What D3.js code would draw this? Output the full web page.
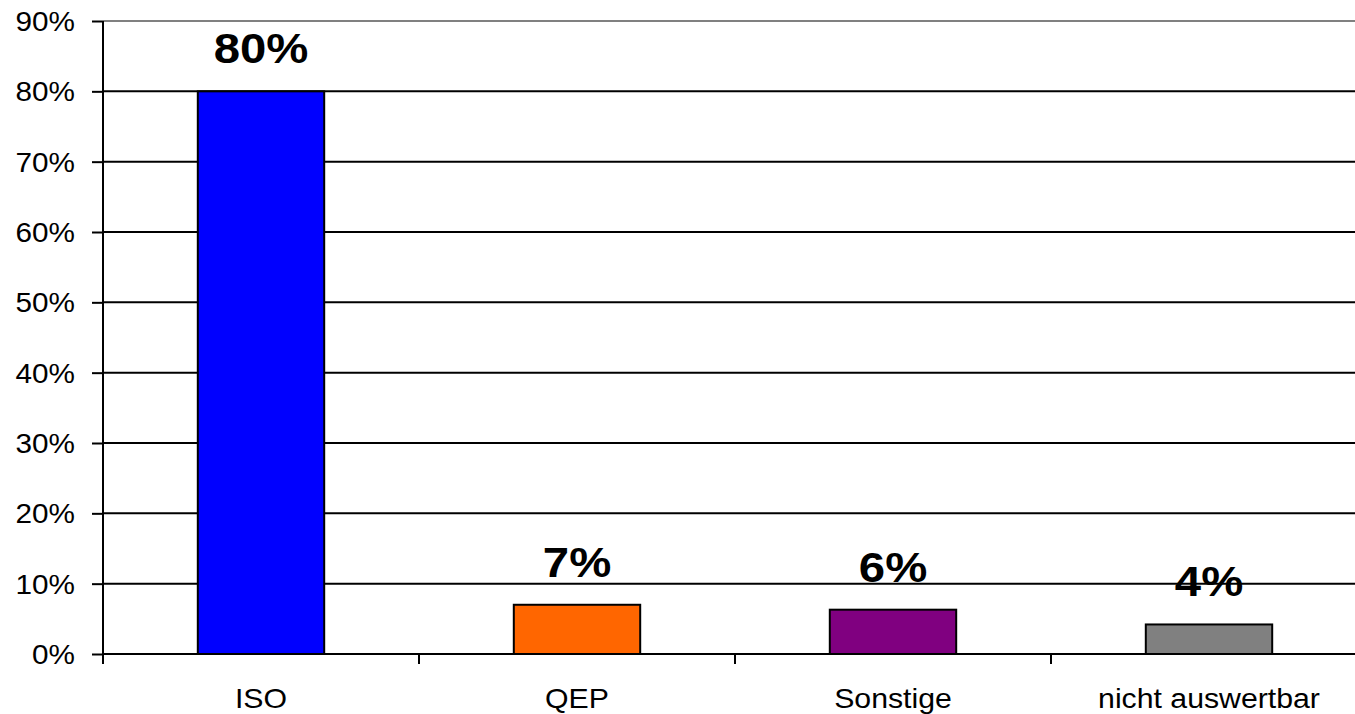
<!DOCTYPE html>
<html>
<head>
<meta charset="utf-8">
<script src="https://cdn.jsdelivr.net/npm/d3@7"></script>
<style>
  body { margin: 0; background: #fff; }
  svg { display: block; font-family: 'Liberation Sans', Arial, sans-serif; }
</style>
</head>
<body>
<div id="chart"></div>
<script>
const categories = ['ISO', 'QEP', 'Sonstige', 'nicht auswertbar']
const values = [80, 7.0, 6.3, 4.2]
const barLabels = ['80%', '7%', '6%', '4%']
const colors = ['#0000ff', '#ff6600', '#800080', '#808080']
const yTicks = [0, 10, 20, 30, 40, 50, 60, 70, 80, 90]

const width = 1355, height = 714
const margin = {top: 21, right: -12, bottom: 60, left: 103}
const stretch = 1.1  // text in the reference is a little wider than normal

const svg = d3.select('#chart').append('svg')
  .attr('width', width)
  .attr('height', height)

const xScale = d3.scaleBand()
  .domain(categories)
  .range([margin.left, width - margin.right])
  .paddingInner(0.6)
  .paddingOuter(0.3)
const yScale = d3.scaleLinear()
  .domain([0, 90])
  .range([height - margin.bottom, margin.top])

// gridlines
svg.append('g')
  .selectAll('line')
  .data(yTicks.filter(d => d > 0))
  .join('line')
  .attr('x1', margin.left)
  .attr('x2', width - margin.right)
  .attr('y1', d => yScale(d))
  .attr('y2', d => yScale(d))
  .attr('stroke', d => d === 90 ? '#808080' : '#000')
  .attr('stroke-width', 2)

// y axis ticks, labels drawn separately so they can be stretched
const yAxis = d3.axisLeft(yScale)
  .tickValues(yTicks)
  .tickSize(11)
  .tickFormat('')
svg.append('g')
  .attr('transform', `translate(${margin.left},0)`)
  .call(yAxis)
  .call(g => g.select('.domain').remove())
  .call(g => g.selectAll('line').attr('stroke', '#000').attr('stroke-width', 2))

svg.append('g')
  .selectAll('text')
  .data(yTicks)
  .join('text')
  .attr('transform', d => `translate(75,${yScale(d) + 10}) scale(${stretch},1)`)
  .attr('text-anchor', 'end')
  .attr('font-size', 27)
  .attr('fill', '#000')
  .text(d => d + '%')

// y axis line
svg.append('line')
  .attr('x1', margin.left).attr('x2', margin.left)
  .attr('y1', yScale(90)).attr('y2', yScale(0) + 10)
  .attr('stroke', '#000').attr('stroke-width', 2)

// bars
svg.append('g')
  .selectAll('rect')
  .data(values)
  .join('rect')
  .attr('x', (d, i) => xScale(categories[i]))
  .attr('y', d => yScale(d))
  .attr('width', xScale.bandwidth())
  .attr('height', d => yScale(0) - yScale(d))
  .attr('fill', (d, i) => colors[i])
  .attr('stroke', '#000')
  .attr('stroke-width', 2)

// x axis line
svg.append('line')
  .attr('x1', margin.left).attr('x2', width - margin.right)
  .attr('y1', yScale(0)).attr('y2', yScale(0))
  .attr('stroke', '#000').attr('stroke-width', 2)

// x category ticks at band boundaries
const boundaries = d3.range(1, categories.length)
  .map(i => margin.left + (width - margin.right - margin.left) * i / categories.length)
svg.append('g')
  .selectAll('line')
  .data(boundaries)
  .join('line')
  .attr('x1', d => d).attr('x2', d => d)
  .attr('y1', yScale(0)).attr('y2', yScale(0) + 10)
  .attr('stroke', '#000').attr('stroke-width', 2)

// x labels
svg.append('g')
  .selectAll('text')
  .data(categories)
  .join('text')
  .attr('transform', d => `translate(${xScale(d) + xScale.bandwidth() / 2},${yScale(0) + 54}) scale(${stretch},1)`)
  .attr('text-anchor', 'middle')
  .attr('font-size', 27.5)
  .attr('fill', '#000')
  .text(d => d)

// value labels
svg.append('g')
  .selectAll('text')
  .data(values)
  .join('text')
  .attr('transform', (d, i) => `translate(${xScale(categories[i]) + xScale.bandwidth() / 2},${yScale(d) - 28}) scale(${stretch},1)`)
  .attr('text-anchor', 'middle')
  .attr('font-size', 43)
  .attr('font-weight', 'bold')
  .attr('fill', '#000')
  .text((d, i) => barLabels[i])
</script>
</body>
</html>
